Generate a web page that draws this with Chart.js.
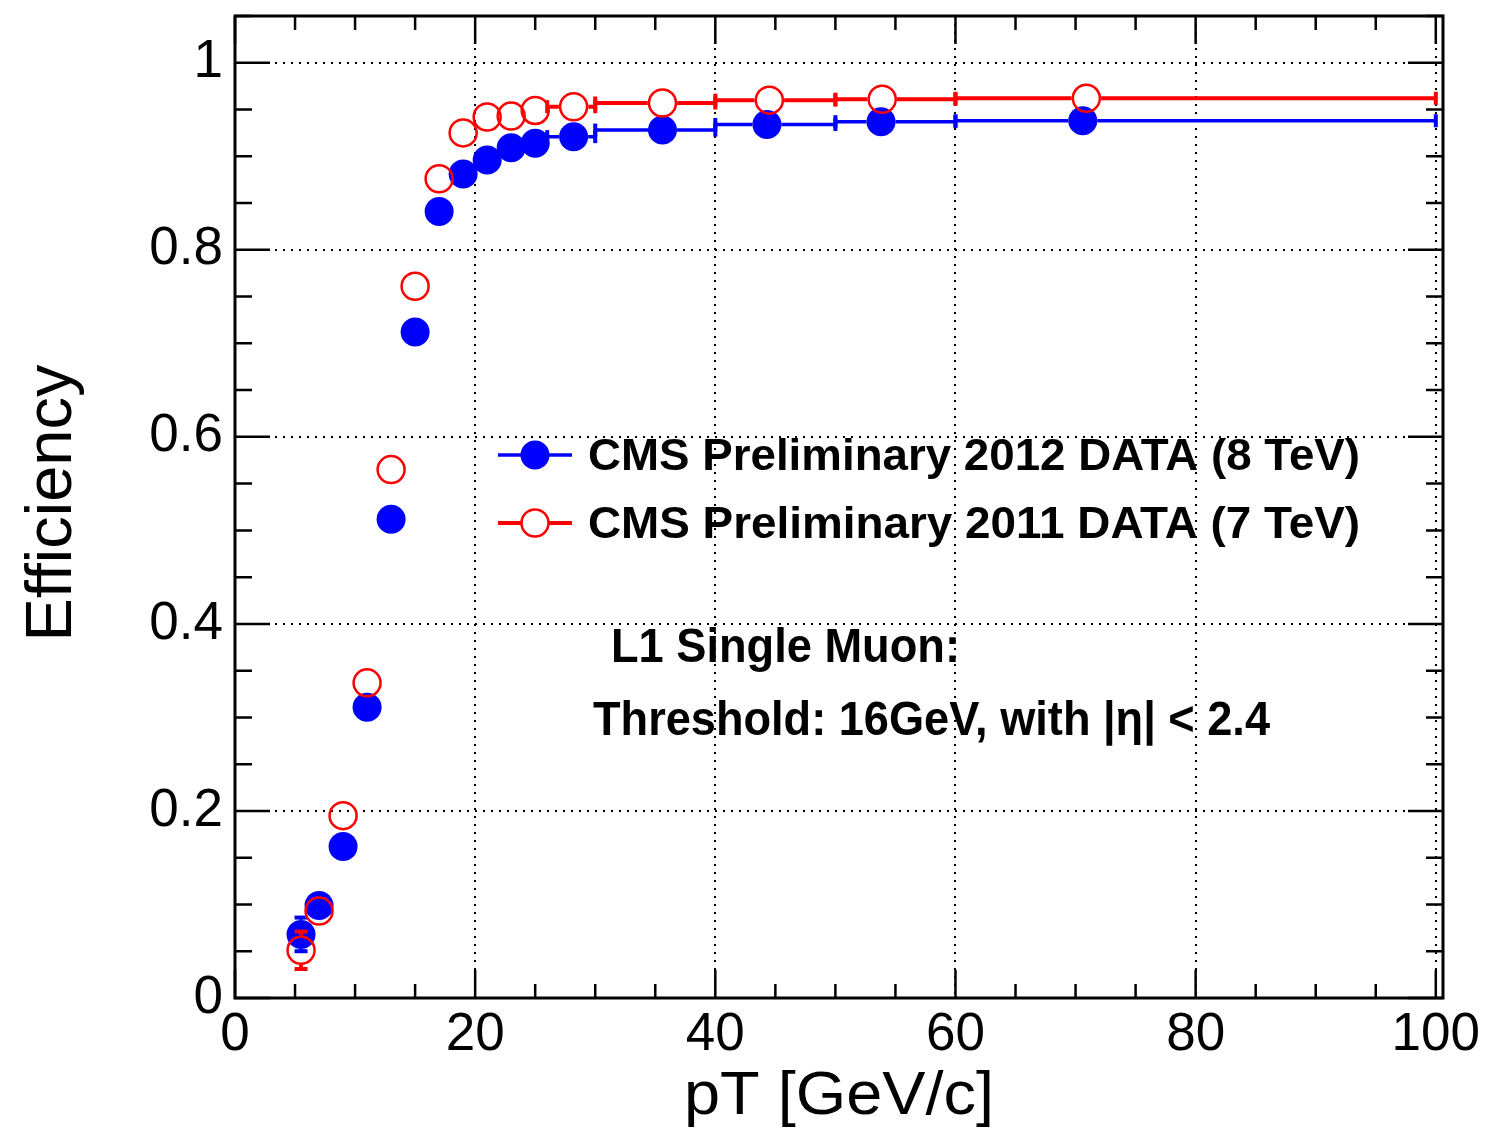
<!DOCTYPE html>
<html>
<head>
<meta charset="utf-8">
<title>L1 Single Muon efficiency</title>
<script src="https://cdn.jsdelivr.net/npm/chart.js@4/dist/chart.umd.min.js"></script>
<style>
  body { margin: 0; background: #fff; }
  canvas { display: block; }
</style>
</head>
<body>
<canvas id="myChart" width="1485" height="1130"></canvas>
<script>
// pT bins [GeV/c]
const ptBlue  = [5.5, 7, 9, 11, 13, 15, 17, 19, 21, 23, 25, 28.2, 35.6, 44.3, 53.8, 70.6];
const ptRed   = [5.5, 7, 9, 11, 13, 15, 17, 19, 21, 23, 25, 28.2, 35.6, 44.5, 53.9, 70.9];
const binLow  = [5, 6, 8, 10, 12, 14, 16, 18, 20, 22, 24, 26, 30, 40, 50, 60];
const binHigh = [6, 8, 10, 12, 14, 16, 18, 20, 22, 24, 26, 30, 40, 50, 60, 100];

// efficiencies
const eff2012 = [0.068, 0.099, 0.162, 0.311, 0.512, 0.712, 0.841, 0.881, 0.896, 0.909, 0.914, 0.921, 0.928, 0.934, 0.937, 0.938];
const err2012 = [0.018, 0.010, 0.008, 0.007, 0.006, 0.005, 0.004, 0.003, 0.003, 0.003, 0.003, 0.002, 0.002, 0.002, 0.002, 0.002];
const eff2011 = [0.051, 0.093, 0.195, 0.337, 0.565, 0.761, 0.876, 0.925, 0.942, 0.943, 0.949, 0.953, 0.957, 0.960, 0.961, 0.962];
const err2011 = [0.020, 0.012, 0.010, 0.010, 0.009, 0.008, 0.006, 0.005, 0.004, 0.004, 0.004, 0.003, 0.003, 0.003, 0.003, 0.002];

const xTicks = [0, 20, 40, 60, 80, 100];
const yTicks = [0, 0.2, 0.4, 0.6, 0.8, 1];

const FONT = "'Liberation Sans', Arial, Helvetica, sans-serif";

const toPoints = (xs, ys) => xs.map((x, i) => ({x: x, y: ys[i]}));

// draw text squeezed/stretched to a given width
function fitText(ctx, text, x, y, width, font, align) {
  ctx.save();
  ctx.font = font;
  const w = ctx.measureText(text).width;
  const sx = width / w;
  let x0 = x;
  if (align === 'center') x0 = x - width / 2;
  ctx.translate(x0, y);
  ctx.scale(sx, 1);
  ctx.textAlign = 'left';
  ctx.fillText(text, 0, 0);
  ctx.restore();
}

// ROOT style error bars, drawn under each dataset's markers
const errorBars = {
  id: 'errorBars',
  beforeDatasetDraw(chart, args) {
    const ds = chart.data.datasets[args.index];
    const xs = chart.scales.x, ys = chart.scales.y;
    const ctx = chart.ctx;
    const r = ds.pointRadius + ds.pointBorderWidth / 2;
    const a = chart.chartArea;
    ctx.save();
    ctx.beginPath();
    ctx.rect(a.left, a.top, a.right - a.left, a.bottom - a.top);
    ctx.clip();
    ctx.strokeStyle = ds.borderColor;
    ctx.fillStyle = ds.borderColor;
    ctx.lineWidth = ds.errWidth;
    const cap = 13, cw = 4;
    ds.data.forEach((p, i) => {
      const px = xs.getPixelForValue(p.x), py = ys.getPixelForValue(p.y);
      const xl = xs.getPixelForValue(ds.binLow[i]), xh = xs.getPixelForValue(ds.binHigh[i]);
      const yl = ys.getPixelForValue(p.y - ds.yErr[i]), yh = ys.getPixelForValue(p.y + ds.yErr[i]);
      ctx.beginPath();
      if (px - xl > r) { ctx.moveTo(xl, py); ctx.lineTo(px - r, py); }
      if (xh - px > r) { ctx.moveTo(px + r, py); ctx.lineTo(xh, py); }
      if (yl - py > r) { ctx.moveTo(px, py + r); ctx.lineTo(px, yl); }
      if (py - yh > r) { ctx.moveTo(px, py - r); ctx.lineTo(px, yh); }
      ctx.stroke();
      if (px - xl > r) ctx.fillRect(xl - cw / 2, py - cap / 2, cw, cap);
      if (xh - px > r) ctx.fillRect(xh - cw / 2, py - cap / 2, cw, cap);
      if (yl - py > r) ctx.fillRect(px - cap / 2, yl - cw / 2, cap, cw);
      if (py - yh > r) ctx.fillRect(px - cap / 2, yh - cw / 2, cap, cw);
    });
    ctx.restore();
  }
};

// frame with inward ticks on all four sides
const frame = {
  id: 'frame',
  afterDraw(chart) {
    const {ctx, chartArea: a, scales: {x, y}} = chart;
    ctx.save();
    ctx.strokeStyle = '#000';
    ctx.lineWidth = 2.5;
    ctx.beginPath();
    for (let i = 0; i <= 21; i++) {
      const py = y.getPixelForValue(i * 0.05);
      const len = i % 4 === 0 ? 35 : 17;
      ctx.moveTo(a.left, py); ctx.lineTo(a.left + len, py);
      ctx.moveTo(a.right, py); ctx.lineTo(a.right - len, py);
    }
    for (let i = 0; i <= 20; i++) {
      const px = x.getPixelForValue(i * 5);
      const len = i % 4 === 0 ? 28 : 14;
      ctx.moveTo(px, a.bottom); ctx.lineTo(px, a.bottom - len);
      ctx.moveTo(px, a.top); ctx.lineTo(px, a.top + len);
    }
    ctx.stroke();
    ctx.lineWidth = 3;
    ctx.strokeRect(a.left, a.top, a.right - a.left, a.bottom - a.top);
    ctx.restore();
  }
};

// legend, labels and axis titles
const texts = {
  id: 'texts',
  afterDraw(chart) {
    const ctx = chart.ctx;
    ctx.save();
    ctx.fillStyle = '#000';
    ctx.textBaseline = 'alphabetic';

    // legend
    const rows = [{ds: chart.data.datasets[0], y: 455, tb: 470}, {ds: chart.data.datasets[1], y: 523, tb: 538}];
    rows.forEach(row => {
      const ds = row.ds;
      ctx.save();
      ctx.strokeStyle = ds.borderColor;
      ctx.lineWidth = ds.errWidth;
      ctx.beginPath();
      ctx.moveTo(498, row.y); ctx.lineTo(572, row.y);
      ctx.stroke();
      ctx.beginPath();
      ctx.arc(535, row.y, ds.pointRadius, 0, Math.PI * 2);
      if (ds.pointBorderWidth > 0) {
        ctx.fillStyle = '#fff';
        ctx.fill();
        ctx.lineWidth = ds.pointBorderWidth;
        ctx.stroke();
      } else {
        ctx.fillStyle = ds.backgroundColor;
        ctx.fill();
      }
      ctx.restore();
      fitText(ctx, ds.label, 588, row.tb, 772, 'bold 44px ' + FONT, 'left');
    });

    fitText(ctx, 'L1 Single Muon:', 611, 662, 349, 'bold 48px ' + FONT, 'left');
    fitText(ctx, 'Threshold: 16GeV, with |\u03b7| < 2.4', 593, 735, 677, 'bold 48px ' + FONT, 'left');

    // axis titles
    fitText(ctx, 'pT [GeV/c]', 839, 1114, 310, '62px ' + FONT, 'center');
    ctx.save();
    ctx.translate(71, 503);
    ctx.rotate(-Math.PI / 2);
    fitText(ctx, 'Efficiency', 0, 0, 277, '64px ' + FONT, 'center');
    ctx.restore();

    ctx.restore();
  }
};

const myChart = document.getElementById('myChart').getContext('2d');

const chart = new Chart(myChart, {
  type: 'scatter',
  data: {
    datasets: [{
      label: 'CMS Preliminary 2012 DATA (8 TeV)',
      data: toPoints(ptBlue, eff2012),
      binLow: binLow, binHigh: binHigh, yErr: err2012,
      backgroundColor: '#0000ff',
      borderColor: '#0000ff',
      pointRadius: 14.5,
      pointBorderWidth: 0,
      errWidth: 3.5,
      order: 1
    }, {
      label: 'CMS Preliminary 2011 DATA (7 TeV)',
      data: toPoints(ptRed, eff2011),
      binLow: binLow, binHigh: binHigh, yErr: err2011,
      backgroundColor: 'rgba(0,0,0,0)',
      borderColor: '#ff0000',
      pointRadius: 13.5,
      pointBorderWidth: 2.5,
      errWidth: 4,
      order: 0
    }]
  },
  options: {
    responsive: false,
    animation: false,
    events: [],
    layout: { padding: { left: 0, top: 16, right: 42, bottom: 0 } },
    plugins: {
      legend: { display: false },
      tooltip: { enabled: false }
    },
    scales: {
      x: {
        type: 'linear',
        min: 0,
        max: 100.6,
        afterBuildTicks: s => { s.ticks = xTicks.map(v => ({value: v})); },
        afterFit: s => { s.height = 132; s.paddingLeft = 0; s.paddingRight = 0; },
        ticks: {
          callback: v => String(v),
          font: { family: FONT, size: 53 },
          color: '#000',
          padding: 6,
          maxRotation: 0,
          autoSkip: false
        },
        grid: { color: '#000', lineWidth: 2, drawTicks: false },
        border: { display: false, dash: [2, 6] }
      },
      y: {
        type: 'linear',
        min: 0,
        max: 1.05,
        afterBuildTicks: s => { s.ticks = yTicks.map(v => ({value: v})); },
        afterFit: s => { s.width = 235; s.paddingTop = 0; s.paddingBottom = 0; },
        ticks: {
          callback: v => String(v),
          font: { family: FONT, size: 53 },
          color: '#000',
          padding: 12,
          autoSkip: false
        },
        grid: { color: '#000', lineWidth: 2, drawTicks: false },
        border: { display: false, dash: [2, 6] }
      }
    }
  },
  plugins: [errorBars, frame, texts]
});
</script>
</body>
</html>
